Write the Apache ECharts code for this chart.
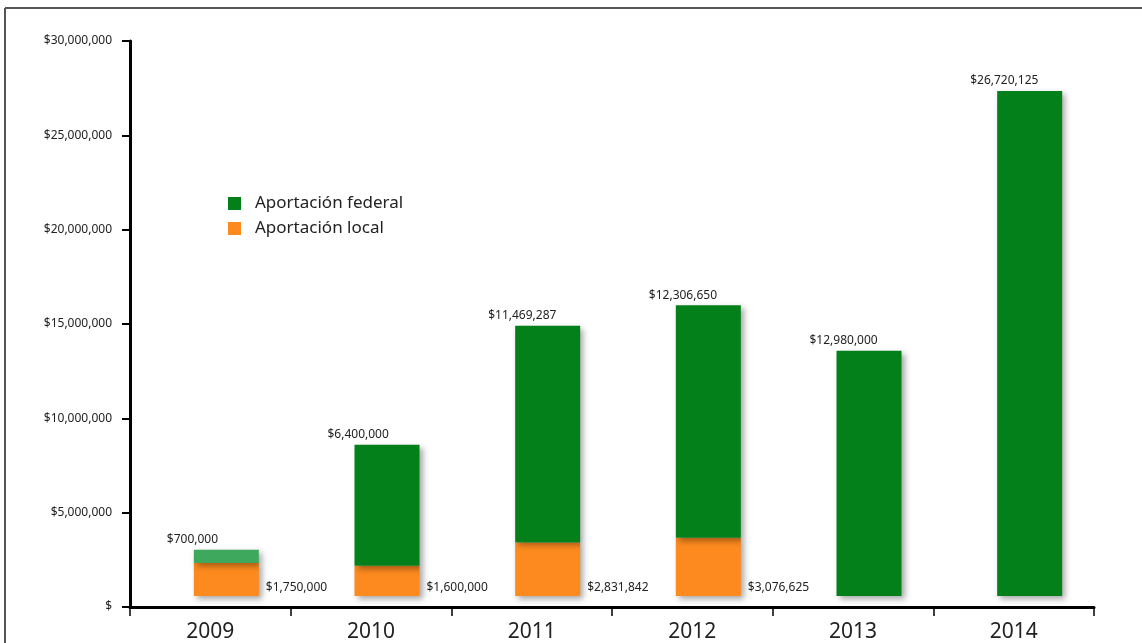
<!DOCTYPE html>
<html>
<head>
<meta charset="utf-8">
<script src="https://cdn.jsdelivr.net/npm/echarts@6/dist/echarts.min.js"></script>
<style>
  html, body { margin: 0; padding: 0; background: #fff; }
  #chart { width: 1142px; height: 643px; }
</style>
</head>
<body>
<div id="chart"></div>
<script>
// datos
var years = ['2009', '2010', '2011', '2012', '2013', '2014'];
var federal = [700000, 6400000, 11469287, 12306650, 12980000, 26720125];
var local = [1750000, 1600000, 2831842, 3076625, null, null];
var yTicks = [0, 5000000, 10000000, 15000000, 20000000, 25000000, 30000000];

var GREEN = '#04801b';
var GREEN_LIGHT = '#3ea85c'; // barra 2009, más clara
var ORANGE = '#fc8a1f';
var FONT = '"Noto Sans", sans-serif';

function money(v) {
  if (!v) return '$';
  return '$' + Number(v).toLocaleString('en-US');
}

var chart = echarts.init(document.getElementById('chart'));

var barShadow = {
  shadowBlur: 6,
  shadowColor: 'rgba(0,0,0,0.35)',
  shadowOffsetX: 3,
  shadowOffsetY: 3
};

var federalData = federal.map(function (v, i) {
  return i === 0 ? { value: v, itemStyle: { color: GREEN_LIGHT } } : v;
});

var option = {
  animation: false,
  backgroundColor: '#fff',
  textStyle: { fontFamily: FONT },
  graphic: [
    { type: 'line', shape: { x1: 5, y1: 8, x2: 1142, y2: 8 }, style: { stroke: '#555', lineWidth: 2 } },
    { type: 'line', shape: { x1: 5, y1: 8, x2: 5, y2: 643 }, style: { stroke: '#555', lineWidth: 2 } }
  ],
  legend: {
    orient: 'vertical',
    left: 228,
    top: 195,
    itemWidth: 13,
    itemHeight: 13,
    itemGap: 8,
    icon: 'rect',
    padding: 0,
    textStyle: { fontSize: 17, color: '#222', fontFamily: FONT, padding: [0, 0, 0, 9] },
    data: ['Aportación federal', 'Aportación local']
  },
  grid: [
    { left: 130, right: 48, top: 41, bottom: 35 },
    { left: 146, right: 32, top: 29, bottom: 47 }
  ],
  xAxis: [
    {
      type: 'category',
      gridIndex: 0,
      data: years,
      axisLine: { lineStyle: { color: '#000', width: 3 } },
      axisTick: { show: true, length: 9, lineStyle: { color: '#000', width: 1.5 } },
      axisLabel: { fontSize: 21, color: '#222', margin: 15, fontFamily: FONT }
    },
    {
      type: 'category',
      gridIndex: 1,
      data: years,
      show: false
    }
  ],
  yAxis: [
    {
      type: 'value',
      gridIndex: 0,
      min: 0,
      max: 30000000,
      interval: 5000000,
      axisLine: { show: true, lineStyle: { color: '#000', width: 3 } },
      axisTick: { show: true, length: 8, lineStyle: { color: '#000', width: 2 } },
      splitLine: { show: false },
      axisLabel: {
        fontSize: 12,
        color: '#222',
        margin: 18,
        fontFamily: FONT,
        formatter: function (v) { return yTicks.indexOf(v) >= 0 ? money(v) : ''; }
      }
    },
    {
      type: 'value',
      gridIndex: 1,
      min: 0,
      max: 30000000,
      show: false
    }
  ],
  series: [
    {
      name: 'Aportación local',
      type: 'bar',
      stack: 'total',
      xAxisIndex: 1,
      yAxisIndex: 1,
      barWidth: 65,
      data: local,
      itemStyle: Object.assign({ color: ORANGE }, barShadow),
      label: {
        show: true,
        position: ['100%', '100%'],
        offset: [7, -8],
        align: 'left',
        verticalAlign: 'middle',
        fontSize: 12,
        color: '#222',
        fontFamily: FONT,
        formatter: function (p) { return money(p.value); }
      }
    },
    {
      name: 'Aportación federal',
      type: 'bar',
      stack: 'total',
      xAxisIndex: 1,
      yAxisIndex: 1,
      barWidth: 65,
      data: federalData,
      itemStyle: Object.assign({ color: GREEN }, barShadow),
      label: {
        show: true,
        position: [-27, -10],
        align: 'left',
        verticalAlign: 'middle',
        fontSize: 12,
        color: '#222',
        fontFamily: FONT,
        formatter: function (p) { return money(p.value); }
      }
    }
  ]
};

chart.setOption(option);
</script>
</body>
</html>
